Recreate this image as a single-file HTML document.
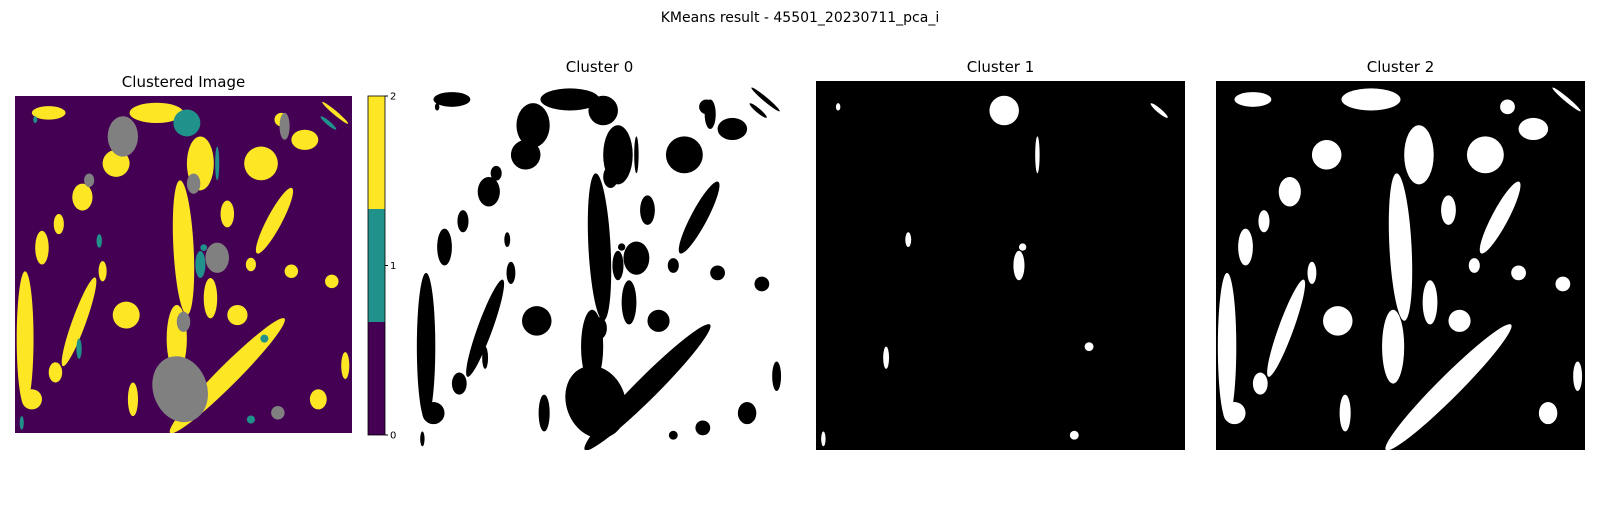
<!DOCTYPE html>
<html><head><meta charset="utf-8"><style>
body{margin:0;background:#fff;width:1600px;height:500px;overflow:hidden;font-family:"Liberation Sans","DejaVu Sans",sans-serif}
</style></head><body>
<svg id="fig" width="1600" height="500" xmlns="http://www.w3.org/2000/svg" font-family="DejaVu Sans, Liberation Sans, sans-serif">
<text x="800" y="22" text-anchor="middle" font-size="14">KMeans result - 45501_20230711_pca_i</text>
</svg>
<script>
// blob data in normalized image coords: [cx, cy, rx, ry, rotationDeg]
const yellowBlobs=[
[0.50,0.45,0.03,0.2,-3],[0.55,0.2,0.04,0.08,0],[0.48,0.72,0.03,0.1,0],[0.63,0.83,0.03,0.24,45],
[0.77,0.37,0.022,0.11,28],[0.73,0.2,0.05,0.05,0],[0.86,0.13,0.04,0.03,0],[0.03,0.72,0.025,0.2,0],
[0.19,0.67,0.02,0.14,20],[0.3,0.2,0.04,0.04,30],[0.2,0.3,0.03,0.04,0],[0.33,0.65,0.04,0.04,0],
[0.08,0.45,0.02,0.05,0],[0.58,0.6,0.02,0.06,0],[0.42,0.05,0.08,0.03,0],[0.1,0.05,0.05,0.02,0],
[0.82,0.52,0.02,0.02,0],[0.94,0.55,0.02,0.02,0],[0.05,0.9,0.03,0.03,0],[0.35,0.9,0.015,0.05,0],
[0.9,0.9,0.025,0.03,0],[0.63,0.35,0.02,0.04,0],[0.66,0.65,0.03,0.03,0],[0.79,0.07,0.02,0.02,0],
[0.95,0.05,0.05,0.006,40],[0.26,0.52,0.012,0.03,0],[0.13,0.38,0.015,0.03,0],[0.7,0.5,0.015,0.02,0],
[0.98,0.8,0.012,0.04,0],[0.12,0.82,0.02,0.03,0]];
const grayBlobs=[[0.49,0.87,0.08,0.1,-20],[0.32,0.12,0.045,0.06,0],[0.6,0.48,0.035,0.045,0],
[0.8,0.09,0.015,0.04,0],[0.53,0.26,0.02,0.03,0],[0.22,0.25,0.015,0.02,0],[0.5,0.67,0.02,0.03,0],[0.78,0.94,0.02,0.02,0]];
const tealBlobs=[[0.51,0.08,0.04,0.04,0],[0.55,0.5,0.015,0.04,0],[0.93,0.08,0.03,0.006,40],
[0.74,0.72,0.012,0.012,0],[0.19,0.75,0.008,0.03,0],[0.25,0.43,0.008,0.02,0],[0.6,0.2,0.006,0.05,0],
[0.7,0.96,0.012,0.012,0],[0.06,0.07,0.006,0.01,0],[0.56,0.45,0.01,0.01,0],[0.02,0.97,0.006,0.02,0]];

const NS='http://www.w3.org/2000/svg';
const fig=document.getElementById('fig');
function mk(t,a,p){const e=document.createElementNS(NS,t);for(const k in a)e.setAttribute(k,a[k]);(p||fig).appendChild(e);return e;}
function blobs(g,list,fill,name){list.forEach(b=>{const e=mk('ellipse',{cx:b[0],cy:b[1],rx:b[2],ry:b[3],transform:`rotate(${b[4]} ${b[0]} ${b[1]})`,fill:fill},g);

});}
function panel(x,y,s,name,title,ty,bg,layers){
  const t=mk('text',{x:x+s/2,y:ty,'text-anchor':'middle','font-size':15});t.textContent=title;
  
  
  const cid='c'+name;const cp=mk('clipPath',{id:cid});mk('rect',{x:x,y:y,width:s,height:s},cp);
  const outer=mk('g',{'clip-path':`url(#${cid})`});
  
  
  mk('rect',{x:x,y:y,width:s,height:s,fill:bg},outer);
  const g=mk('g',{transform:`translate(${x},${y}) scale(${s})`},outer);
  layers.forEach(l=>blobs(g,l[0],l[1],l[2]));
}
panel(15,96,337,'clustered-image','Clustered Image',87,'#440154',[[yellowBlobs,'#fde725','cluster-2-region'],[grayBlobs,'#808080','nodata-region'],[tealBlobs,'#21918c','cluster-1-region']]);
panel(415,81,369,'cluster-0-mask','Cluster 0',72,'#fff',[[yellowBlobs,'#000','non-cluster-region'],[grayBlobs,'#000','non-cluster-region'],[tealBlobs,'#000','non-cluster-region']]);
panel(816,81,369,'cluster-1-mask','Cluster 1',72,'#000',[[tealBlobs,'#fff','cluster-region']]);
panel(1216,81,369,'cluster-2-mask','Cluster 2',72,'#000',[[yellowBlobs,'#fff','cluster-region']]);

// colorbar
const cbTicks=['0','1','2'];
const cbColors=['#440154','#21918c','#fde725'];
const cbx=368,cby=96,cbw=17,cbh=339;
cbColors.forEach((c,i)=>{const r=mk('rect',{x:cbx,y:cby+cbh-(i+1)*cbh/3,width:cbw,height:cbh/3,fill:c});

});
mk('rect',{x:cbx,y:cby,width:cbw,height:cbh,fill:'none',stroke:'#000','stroke-width':0.8});
cbTicks.forEach((t,i)=>{const yy=cby+cbh-i*cbh/2;mk('line',{x1:cbx+cbw,x2:cbx+cbw+3,y1:yy,y2:yy,stroke:'#000'});
const e=mk('text',{x:cbx+cbw+5,y:yy+3.5,'font-size':10});e.textContent=t;

});
</script>
</body></html>
